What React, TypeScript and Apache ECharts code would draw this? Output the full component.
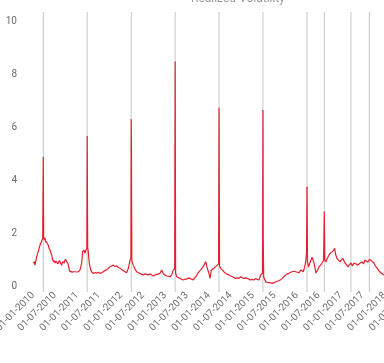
import React, { useEffect, useRef } from "react";
import * as echarts from "echarts";

const titleText = "Realized Volatility";

// [date, value]
const observations: [string, number][] = [
  ["2010-01-07", 0.82], ["2010-01-15", 0.88], ["2010-01-21", 0.75], ["2010-02-04", 1.07],
  ["2010-02-17", 1.26], ["2010-03-04", 1.51], ["2010-03-18", 1.66], ["2010-03-26", 1.75],
  ["2010-03-31", 4.84], ["2010-04-03", 1.8], ["2010-04-08", 1.7], ["2010-04-14", 1.78],
  ["2010-04-20", 1.62], ["2010-04-28", 1.63], ["2010-05-04", 1.55], ["2010-05-12", 1.5],
  ["2010-05-18", 1.38], ["2010-05-26", 1.32], ["2010-06-02", 1.2], ["2010-06-09", 1.13],
  ["2010-06-15", 0.98], ["2010-06-22", 0.88], ["2010-06-29", 0.92], ["2010-07-06", 0.83],
  ["2010-07-13", 0.9], ["2010-07-20", 0.88], ["2010-07-27", 0.8], ["2010-08-03", 0.83],
  ["2010-08-10", 0.92], ["2010-08-17", 0.88], ["2010-08-24", 0.8], ["2010-08-31", 0.75],
  ["2010-09-06", 0.85], ["2010-09-13", 0.88], ["2010-09-20", 0.82], ["2010-09-27", 0.94],
  ["2010-10-04", 0.96], ["2010-10-11", 0.88], ["2010-10-18", 0.85], ["2010-10-25", 0.75],
  ["2010-11-01", 0.6], ["2010-11-08", 0.5], ["2010-11-16", 0.52], ["2010-11-25", 0.48],
  ["2010-12-05", 0.5], ["2010-12-19", 0.5], ["2011-01-03", 0.49], ["2011-01-16", 0.5],
  ["2011-01-30", 0.56], ["2011-02-13", 0.82], ["2011-02-21", 1.26], ["2011-03-04", 1.32],
  ["2011-03-13", 1.2], ["2011-03-21", 1.32], ["2011-03-28", 1.4], ["2011-03-31", 5.62],
  ["2011-04-04", 1.4], ["2011-04-08", 1.3], ["2011-04-17", 0.83], ["2011-04-29", 0.57],
  ["2011-05-10", 0.48], ["2011-05-21", 0.44], ["2011-06-05", 0.47], ["2011-06-18", 0.44],
  ["2011-07-01", 0.48], ["2011-07-15", 0.44], ["2011-07-28", 0.46], ["2011-08-12", 0.5],
  ["2011-08-25", 0.55], ["2011-09-09", 0.57], ["2011-09-22", 0.62], ["2011-10-06", 0.69],
  ["2011-10-20", 0.72], ["2011-11-03", 0.75], ["2011-11-17", 0.7], ["2011-12-01", 0.72],
  ["2011-12-15", 0.66], ["2011-12-29", 0.63], ["2012-01-12", 0.58], ["2012-01-25", 0.54],
  ["2012-02-08", 0.5], ["2012-02-22", 0.46], ["2012-03-07", 0.63], ["2012-03-21", 0.94],
  ["2012-03-28", 1.0], ["2012-03-31", 6.25], ["2012-04-02", 4.98], ["2012-04-05", 0.9],
  ["2012-04-17", 0.75], ["2012-05-01", 0.6], ["2012-05-15", 0.5], ["2012-05-29", 0.46],
  ["2012-06-12", 0.44], ["2012-06-26", 0.4], ["2012-07-09", 0.38], ["2012-07-23", 0.42],
  ["2012-08-07", 0.4], ["2012-08-20", 0.38], ["2012-09-03", 0.42], ["2012-09-17", 0.38],
  ["2012-09-30", 0.34], ["2012-10-15", 0.38], ["2012-10-29", 0.4], ["2012-11-12", 0.42],
  ["2012-11-25", 0.44], ["2012-12-09", 0.57], ["2012-12-23", 0.42], ["2013-01-06", 0.38],
  ["2013-01-20", 0.34], ["2013-02-03", 0.33], ["2013-02-16", 0.31], ["2013-03-02", 0.38],
  ["2013-03-16", 0.57], ["2013-03-27", 0.6], ["2013-03-31", 8.43], ["2013-04-04", 0.45],
  ["2013-04-13", 0.31], ["2013-04-27", 0.28], ["2013-05-10", 0.25], ["2013-05-24", 0.22],
  ["2013-06-07", 0.19], ["2013-06-21", 0.22], ["2013-07-05", 0.22], ["2013-07-18", 0.26],
  ["2013-08-01", 0.25], ["2013-08-15", 0.22], ["2013-08-29", 0.19], ["2013-09-12", 0.28],
  ["2013-09-22", 0.33], ["2013-10-11", 0.48], ["2013-10-29", 0.57], ["2013-11-12", 0.65],
  ["2013-11-26", 0.75], ["2013-12-10", 0.88], ["2013-12-23", 0.63], ["2014-01-06", 0.44],
  ["2014-01-15", 0.25], ["2014-01-26", 0.57], ["2014-02-05", 0.6], ["2014-02-17", 0.63],
  ["2014-03-03", 0.7], ["2014-03-16", 0.75], ["2014-03-27", 0.8], ["2014-03-31", 6.69],
  ["2014-04-04", 0.7], ["2014-04-14", 0.63], ["2014-04-27", 0.57], ["2014-05-10", 0.5],
  ["2014-05-25", 0.44], ["2014-06-08", 0.4], ["2014-06-22", 0.38], ["2014-07-05", 0.34],
  ["2014-07-19", 0.31], ["2014-08-02", 0.28], ["2014-08-16", 0.25], ["2014-08-30", 0.27],
  ["2014-09-13", 0.25], ["2014-09-27", 0.31], ["2014-10-10", 0.27], ["2014-10-24", 0.25],
  ["2014-11-07", 0.27], ["2014-11-21", 0.25], ["2014-12-05", 0.22], ["2014-12-19", 0.19],
  ["2015-01-02", 0.21], ["2015-01-15", 0.19], ["2015-01-30", 0.25], ["2015-02-12", 0.21],
  ["2015-02-26", 0.19], ["2015-03-12", 0.38], ["2015-03-27", 0.45], ["2015-03-31", 6.6],
  ["2015-04-02", 1.82], ["2015-04-06", 0.3], ["2015-04-23", 0.12], ["2015-05-06", 0.1],
  ["2015-05-20", 0.09], ["2015-06-03", 0.08], ["2015-06-17", 0.06], ["2015-07-01", 0.09],
  ["2015-07-15", 0.12], ["2015-07-28", 0.14], ["2015-08-11", 0.16], ["2015-08-25", 0.2],
  ["2015-09-08", 0.25], ["2015-09-22", 0.32], ["2015-10-06", 0.38], ["2015-10-20", 0.42],
  ["2015-11-02", 0.44], ["2015-11-16", 0.48], ["2015-11-30", 0.5], ["2015-12-14", 0.52],
  ["2015-12-28", 0.5], ["2016-01-11", 0.48], ["2016-01-25", 0.46], ["2016-02-08", 0.57],
  ["2016-02-29", 0.5], ["2016-03-12", 0.69], ["2016-03-20", 0.88], ["2016-03-27", 1.2],
  ["2016-03-31", 3.71], ["2016-04-04", 0.9], ["2016-04-13", 0.68], ["2016-04-25", 0.85],
  ["2016-05-12", 1.05], ["2016-05-28", 0.83], ["2016-06-14", 0.45], ["2016-06-25", 0.55],
  ["2016-07-09", 0.68], ["2016-07-22", 0.75], ["2016-08-03", 0.83], ["2016-08-16", 0.94],
  ["2016-08-22", 2.77], ["2016-08-26", 0.95], ["2016-09-05", 0.87], ["2016-09-15", 1.0],
  ["2016-09-30", 1.13], ["2016-10-10", 1.2], ["2016-10-25", 1.25], ["2016-11-05", 1.3],
  ["2016-11-16", 1.38], ["2016-11-24", 1.15], ["2016-12-06", 1.0], ["2016-12-15", 0.95],
  ["2016-12-30", 0.87], ["2017-01-10", 0.95], ["2017-01-24", 1.0], ["2017-02-03", 0.9],
  ["2017-02-10", 0.83], ["2017-02-20", 0.78], ["2017-03-07", 0.68], ["2017-03-20", 0.78],
  ["2017-04-01", 0.83], ["2017-04-12", 0.72], ["2017-04-26", 0.83], ["2017-05-10", 0.8],
  ["2017-05-29", 0.75], ["2017-06-12", 0.82], ["2017-07-01", 0.87], ["2017-07-14", 0.8],
  ["2017-07-26", 0.94], ["2017-08-08", 0.9], ["2017-08-20", 0.87], ["2017-09-01", 0.96],
  ["2017-09-14", 0.94], ["2017-09-25", 0.88], ["2017-10-09", 0.83], ["2017-10-20", 0.72],
  ["2017-11-03", 0.64], ["2017-11-15", 0.55], ["2017-11-28", 0.49], ["2017-12-10", 0.44],
  ["2017-12-31", 0.38], ["2018-01-20", 0.35], ["2018-02-15", 0.4],
];

const eventDates = [
  "2010-03-31", "2011-03-31", "2012-03-31", "2013-03-31", "2014-03-31",
  "2015-03-31", "2016-03-31", "2016-08-22", "2017-03-31", "2017-08-31",
];

const tickLabels = [
  "2010-01-01", "2010-07-01", "2011-01-01", "2011-07-01", "2012-01-01", "2012-07-01",
  "2013-01-01", "2013-07-01", "2014-01-01", "2014-07-01", "2015-01-01", "2015-07-01",
  "2016-01-01", "2016-07-01", "2017-01-01", "2017-07-01", "2018-01-01", "2018-07-01",
];

export default function App() {
  const ref = useRef<HTMLDivElement>(null);
  useEffect(() => {
    if (!ref.current) return;
    const chart = echarts.init(ref.current, null, { renderer: "svg" });
    const parse = (s: string) => +echarts.time.parse(s);
    const seriesData = observations.map(([d, v]) => [parse(d), v]);
    chart.setOption({
      animation: false,
      title: {
        text: titleText,
        left: 186,
        top: -13,
        textStyle: { fontSize: 12, color: "#9a9a9a", fontWeight: "normal", fontFamily: "Roboto" },
      },
      grid: { left: 25, top: 20, width: 384.5, height: 265, containLabel: false, outerBoundsMode: "none" },
      xAxis: {
        type: "value",
        min: parse("2009-10-30"),
        max: parse("2018-07-31"),
        axisLine: { show: false },
        axisTick: { show: false },
        splitLine: { show: false },
        axisLabel: {
          rotate: 45,
          fontSize: 10,
          color: "#6e6e6e",
          fontFamily: "Roboto",
          margin: 8,
          customValues: tickLabels.map(parse),
          formatter: (v: number) => echarts.time.format(v, "{dd}-{MM}-{yyyy}", false),
        },
      },
      yAxis: {
        type: "value",
        min: 0,
        max: 10,
        interval: 2,
        axisLine: { show: false },
        axisTick: { show: false },
        splitLine: { show: false },
        axisLabel: {
          fontSize: 10,
          color: "#6e6e6e",
          fontFamily: "Roboto",
        },
      },
      series: [
        {
          type: "custom",
          data: eventDates.map((d) => [parse(d)]),
          encode: { x: 0 },
          renderItem: (params: any, api: any) => {
            const p = api.coord([api.value(0), 0]);
            const cs = params.coordSys;
            return {
              type: "line",
              shape: { x1: p[0], y1: cs.y - 8, x2: p[0], y2: cs.y + cs.height + 7 },
              style: { stroke: "#c6c6c6", lineWidth: 1 },
            };
          },
          silent: true,
          z: 1,
        },
        {
          type: "line",
          data: seriesData,
          showSymbol: false,
          symbol: "none",
          lineStyle: { color: "#e5202e", width: 1.2 },
          itemStyle: { color: "#e5202e" },
          z: 3,
        },
      ],
    });
    return () => chart.dispose();
  }, []);
  return (
    <div
      ref={ref}
      style={{ position: "fixed", left: 0, top: 0, width: 384, height: 363 }}
    />
  );
}
